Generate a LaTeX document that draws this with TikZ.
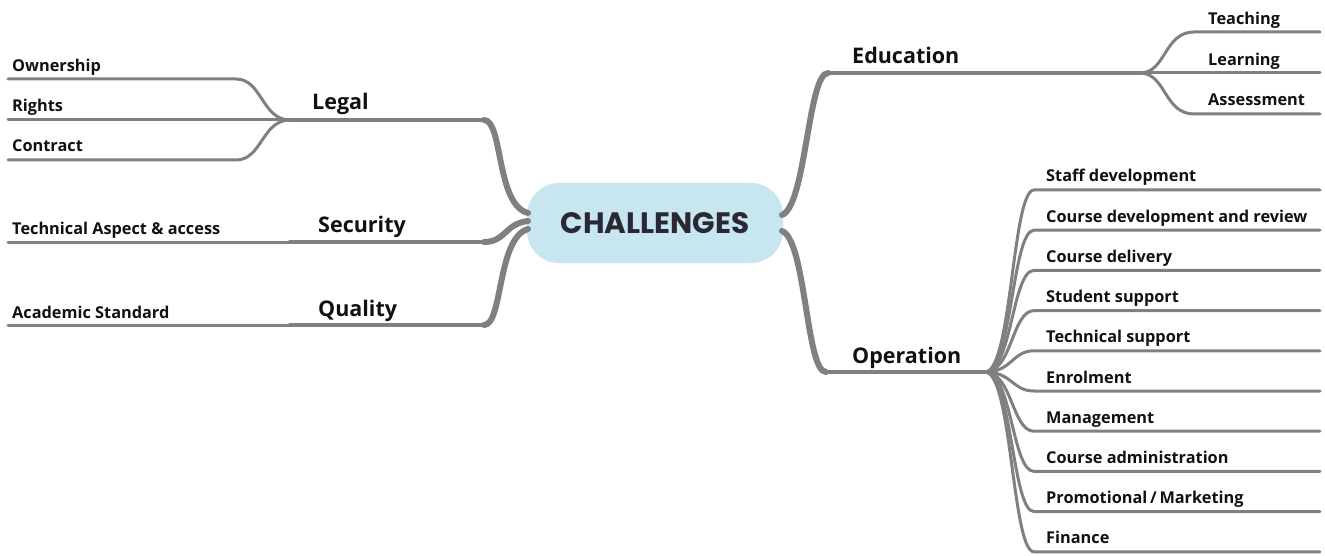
\documentclass[tikz,border=0pt]{standalone}
\usepackage{fontspec}
\setmainfont{Open Sans}
\newfontfamily\titlefont{Poppins}
\definecolor{branch}{HTML}{808080}
\definecolor{hubfill}{HTML}{C7E6F0}
\definecolor{hubtext}{HTML}{2A2833}
\definecolor{ink}{HTML}{111111}
\tikzset{
  hub/.style={rounded corners=32pt, fill=hubfill, minimum width=256pt, minimum height=80pt,
              font=\titlefont\bfseries\fontsize{29.5}{32}\selectfont, text=hubtext},
  topic/.style={anchor=base west, inner sep=0pt, text=ink, font=\bfseries\fontsize{21.5}{24}\selectfont},
  leaf/.style={anchor=base west, inner sep=0pt, text=ink, font=\bfseries\fontsize{16.3}{18}\selectfont},
  trunk/.style={draw=branch, line width=4.5pt, line cap=round},
  swoop/.style={draw=branch, line width=6pt, line cap=round},
  twig/.style={draw=branch, line width=3pt, line cap=round},
}
\begin{document}
\begin{tikzpicture}[x=1pt,y=-1pt]
\useasboundingbox (0,0) rectangle (1325,556);

% central hub
\node[hub] (hub) at (655,223) {CHALLENGES};

% ---------------- left side ----------------
\node[topic] (legal)    at (312,110) {Legal};
\node[topic] (security) at (318,233) {Security};
\node[topic] (quality)  at (318,316) {Quality};

\node[leaf] (own)  at (12,72)  {Ownership};
\node[leaf] (rig)  at (12,112) {Rights};
\node[leaf] (con)  at (12,152) {Contract};
\node[leaf] (tech) at (12,235) {Technical Aspect \& access};
\node[leaf] (acad) at (12,318) {Academic Standard};

\coordinate (hubL1) at (528,213);
\coordinate (hubL2) at (528,221);
\coordinate (hubL3) at (528,229);

\coordinate (legalJ) at (290,120);
\coordinate (legalE) at (484,120);
\coordinate (secS)   at (290,242);
\coordinate (secE)   at (484,242);
\coordinate (quaS)   at (290,325);
\coordinate (quaE)   at (484,325);

\coordinate (ownEnd) at (8,79);
\coordinate (rigEnd) at (8,120);
\coordinate (conEnd) at (8,160);
\coordinate (techEnd) at (8,242);
\coordinate (acadEnd) at (8,325);

% trunks from the hub
\path[trunk] (legalJ) -- (legalE);
\path[swoop] (legalE) .. controls (503,120) and (496,205) .. (hubL1);
\path[trunk] (secS) -- (secE);
\path[swoop] (secE) .. controls (506,242) and (504,224) .. (hubL2);
\path[trunk] (quaS) -- (quaE);
\path[swoop] (quaE) .. controls (503,325) and (497,238) .. (hubL3);

% twigs to the left leaves
\path[twig] (legalJ) .. controls (262,120) and (262,79) .. (236,79) -- (ownEnd);
\path[twig] (legalJ) -- (rigEnd);
\path[twig] (legalJ) .. controls (262,120) and (262,160) .. (236,160) -- (conEnd);
\path[twig] (secS) -- (techEnd);
\path[twig] (quaS) -- (acadEnd);

% ---------------- right side ----------------
\node[topic] (edu) at (852,64)  {Education};
\node[topic] (ops) at (852,363) {Operation};

\coordinate (hubR1) at (782,215);
\coordinate (hubR2) at (782,231);
\coordinate (eduS) at (828,73);
\coordinate (eduJ) at (1140,73);
\coordinate (opsS) at (826,372);
\coordinate (opsJ) at (985,372);

\path[swoop] (hubR1) .. controls (806,206) and (808,73) .. (eduS);
\path[trunk] (eduS) -- (eduJ);
\path[swoop] (hubR2) .. controls (806,240) and (806,372) .. (opsS);
\path[trunk] (opsS) -- (opsJ);

% education leaves
\node[leaf] (teach)  at (1208,25)  {Teaching};
\node[leaf] (learn)  at (1208,66)  {Learning};
\node[leaf] (assess) at (1208,106) {Assessment};
\coordinate (teachEnd)  at (1320,32);
\coordinate (learnEnd)  at (1320,73);
\coordinate (assessEnd) at (1320,114);
\path[twig] (eduJ) .. controls (1166,73) and (1164,32) .. (1194,32) -- (teachEnd);
\path[twig] (eduJ) -- (learnEnd);
\path[twig] (eduJ) .. controls (1166,73) and (1164,114) .. (1194,114) -- (assessEnd);

% operation leaves
\foreach \lbl [count=\i from 0] in {Staff development, Course development and review,
    Course delivery, Student support, Technical support, Enrolment, Management,
    Course administration, Promotional\,/\,Marketing, Finance} {
  \pgfmathsetmacro{\ly}{190+40.2*\i}
  \node[leaf] (op\i) at (1046,\ly-8) {\lbl};
  \coordinate (op\i End) at (1320,\ly);
  \path[twig] (opsJ) .. controls (1012,372) and (1012,\ly) .. (1034,\ly) -- (op\i End);
}
\end{tikzpicture}
\end{document}
